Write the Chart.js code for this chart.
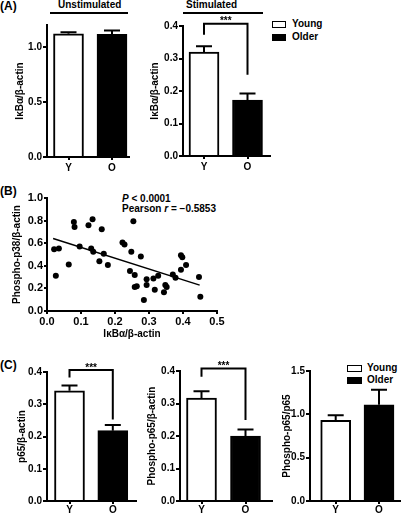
<!DOCTYPE html>
<html><head><meta charset="utf-8">
<script src="https://cdn.jsdelivr.net/npm/chart.js@4.4.1/dist/chart.umd.min.js"></script>
<style>
html,body{margin:0;padding:0;background:#fff;width:402px;height:516px;overflow:hidden;}
body{position:relative;font-family:'Liberation Sans',Arial,sans-serif;font-weight:bold;color:#000;}
canvas{position:absolute;}
.t{position:absolute;white-space:nowrap;font-size:10px;line-height:12px;}
.pl{position:absolute;white-space:nowrap;font-size:12px;line-height:14px;}
.ul{position:absolute;height:2px;background:#000;}
.box{position:absolute;box-sizing:border-box;border:1.5px solid #000;}
</style></head><body>
<div class="pl" style="left:0;top:-1px">(A)</div>
<div class="pl" style="left:0;top:184px">(B)</div>
<div class="pl" style="left:0;top:358px">(C)</div>
<div class="t" style="left:58px;top:-1px">Unstimulated</div>
<div class="ul" style="left:50px;top:12px;width:78px"></div>
<div class="t" style="left:186px;top:-1px">Stimulated</div>
<div class="ul" style="left:183px;top:12px;width:80px"></div>
<div class="box" style="left:272px;top:21px;width:14px;height:7px;background:#fff"></div>
<div class="box" style="left:272px;top:34px;width:14px;height:7px;background:#000"></div>
<div class="t" style="left:292px;top:18px">Young</div>
<div class="t" style="left:292px;top:31px">Older</div>
<div class="box" style="left:347px;top:365px;width:15px;height:7px;background:#fff"></div>
<div class="box" style="left:347px;top:377px;width:15px;height:7px;background:#000"></div>
<div class="t" style="left:367px;top:362px">Young</div>
<div class="t" style="left:367px;top:374px">Older</div>
<div class="t" style="left:122px;top:193px"><i>P</i> &lt; 0.0001</div>
<div class="t" style="left:122px;top:203px">Pearson <i>r</i> = −0.5853</div>
<script>
// ---------- data ----------
const barCats = ['Y', 'O'];
const seriesNames = ['Young', 'Older'];
const unstimMean = [1.12, 1.115];
const unstimSem  = [0.015, 0.035];
const stimMean   = [0.32, 0.172];
const stimSem    = [0.018, 0.02];
const p65Mean    = [0.342, 0.218];
const p65Sem     = [0.016, 0.018];
const pp65Mean   = [0.317, 0.2];
const pp65Sem    = [0.021, 0.02];
const ratioMean  = [0.93, 1.11];
const ratioSem   = [0.06, 0.175];
const ikbX = [0.021,0.035,0.026,0.064,0.079,0.081,0.096,0.122,0.134,0.130,0.136,0.161,0.154,0.167,0.179,0.222,0.228,0.254,0.248,0.244,0.258,0.276,0.258,0.264,0.285,0.293,0.293,0.313,0.317,0.327,0.344,0.348,0.352,0.370,0.378,0.394,0.394,0.398,0.409,0.447,0.451];
const p38Y = [0.547,0.553,0.312,0.412,0.788,0.744,0.571,0.759,0.812,0.553,0.524,0.724,0.441,0.506,0.406,0.606,0.588,0.794,0.524,0.353,0.318,0.482,0.212,0.218,0.097,0.282,0.229,0.288,0.188,0.312,0.165,0.229,0.212,0.324,0.294,0.365,0.494,0.476,0.406,0.300,0.126];
const fitX = [0.018, 0.449];
const fitY = [0.641, 0.229];
const ticksUnstim = [0, 0.5, 1.0];
const ticks04 = [0, 0.1, 0.2, 0.3, 0.4];
const ticksRatio = [0, 0.5, 1.0, 1.5];
const ticksBX = [0, 0.1, 0.2, 0.3, 0.4, 0.5];
const ticksBY = [0, 0.2, 0.4, 0.6, 0.8, 1.0];

// ---------- layout (pixels) ----------
const LAY = {
  a1: {L:47, R:129, T:25, B:157, c0:68.5, dx:43.5, ymax:1.2, titleX:20, padTop:12, hx:20, xpad:3},
  a2: {L:183, R:270, T:26, B:156, c0:204, dx:43.5, ymax:0.4, titleX:155, padTop:20, hx:20, xpad:3},
  c1: {L:47, R:136, T:372, B:501, c0:69.5, dx:43.3, ymax:0.4, titleX:22, padTop:16, hx:15, xpad:1},
  c2: {L:180, R:272, T:371, B:501, c0:201.5, dx:44, ymax:0.4, titleX:152, padTop:16, hx:15, xpad:1},
  c3: {L:310, R:400, T:371, B:501, c0:335.7, dx:43.3, ymax:1.5, titleX:287, padTop:12, hx:15, xpad:1},
  b:  {L:47, R:217, T:198, B:311, titleX:17, padTop:10, hx:29}
};
const BRACKETS = {
  a2: {top:0.407, left:0.373, right:0.25, text:'***'},
  c1: {top:0.406, left:0.383, right:0.253, text:'***'},
  c2: {top:0.408, left:0.382, right:0.249, text:'***'}
};

Chart.defaults.font.family = "'Liberation Sans', Arial, sans-serif";
Chart.defaults.font.weight = 'bold';
Chart.defaults.font.size = 10;
Chart.defaults.color = '#000';

function makeCanvas(lay, padRight) {
  const left = Math.round(lay.L - (lay.L - lay.titleX + 6));
  const top = Math.round(lay.T - lay.padTop);
  const w = Math.round(lay.R + padRight - left);
  const h = Math.round(lay.B + lay.hx - top);
  const cv = document.createElement('canvas');
  cv.width = w; cv.height = h;
  cv.style.left = left + 'px'; cv.style.top = top + 'px';
  cv.style.width = w + 'px'; cv.style.height = h + 'px';
  document.body.appendChild(cv);
  return {cv, wy: lay.L - left, padTop: lay.T - top, hx: top + h - lay.B, padRight: left + w - lay.R};
}

function decor(sem, bracket) {
  return {
    id: 'decor',
    afterDatasetsDraw(chart) {
      const ctx = chart.ctx, xs = chart.scales.x, ys = chart.scales.y;
      const meta = chart.getDatasetMeta(0);
      const data = chart.data.datasets[0].data;
      ctx.save();
      ctx.strokeStyle = '#000'; ctx.lineWidth = 2; ctx.lineCap = 'butt';
      meta.data.forEach((el, i) => {
        const yt = ys.getPixelForValue(data[i].y + sem[i]);
        ctx.beginPath();
        ctx.moveTo(el.x, el.y); ctx.lineTo(el.x, yt);
        ctx.moveTo(el.x - 8, yt); ctx.lineTo(el.x + 8, yt);
        ctx.stroke();
      });
      if (bracket) {
        const x0 = xs.getPixelForValue(0), x1 = xs.getPixelForValue(1);
        const yt = ys.getPixelForValue(bracket.top);
        ctx.beginPath();
        ctx.moveTo(x0, ys.getPixelForValue(bracket.left));
        ctx.lineTo(x0, yt); ctx.lineTo(x1, yt);
        ctx.lineTo(x1, ys.getPixelForValue(bracket.right));
        ctx.stroke();
        ctx.fillStyle = '#000';
        ctx.font = "bold 10px 'Liberation Sans', Arial, sans-serif";
        ctx.textAlign = 'center'; ctx.textBaseline = 'alphabetic';
        ctx.fillText(bracket.text, (x0 + x1) / 2, yt + 0.5);
      }
      ctx.restore();
    }
  };
}

function yAxis(ticks, title, wy) {
  return {
    min: 0,
    afterBuildTicks: s => { s.ticks = ticks.map(v => ({value: v})); },
    ticks: {callback: v => Number(v).toFixed(1), padding: 1, color: '#000', font: {size: 10, weight: 'bold'}},
    grid: {drawOnChartArea: false, drawTicks: true, tickLength: 4, color: '#000', lineWidth: 2},
    border: {color: '#000', width: 2},
    title: {display: true, text: title, padding: 0, color: '#000', font: {size: 10, weight: 'bold'}},
    afterFit: s => { s.width = wy; }
  };
}

function barChart(key, mean, sem, yTicks, yTitle) {
  const lay = LAY[key];
  const g = makeCanvas(lay, 4);
  const cfg = {
    type: 'bar',
    data: {
      datasets: [{
        label: seriesNames.join('/'),
        data: barCats.map((c, i) => ({x: i, y: mean[i]})),
        backgroundColor: ['#ffffff', '#000000'],
        borderColor: '#000', borderWidth: 2, borderSkipped: 'start',
        barThickness: 30
      }]
    },
    options: {
      animation: false, responsive: false, maintainAspectRatio: false,
      layout: {padding: {top: g.padTop, right: g.padRight, left: 0, bottom: 0}},
      plugins: {legend: {display: false}, tooltip: {enabled: false}},
      scales: {
        x: {
          type: 'linear', offset: false,
          min: (lay.L - lay.c0) / lay.dx, max: (lay.R - lay.c0) / lay.dx,
          afterBuildTicks: s => { s.ticks = barCats.map((c, i) => ({value: i})); },
          ticks: {callback: v => barCats[v], padding: lay.xpad, autoSkip: false, maxRotation: 0,
                  color: '#000', font: {size: 10, weight: 'bold', lineHeight: 1}},
          grid: {offset: false, drawOnChartArea: false, tickLength: 3, color: '#000', lineWidth: 2},
          border: {color: '#000', width: 2},
          afterFit: s => { s.height = g.hx; }
        },
        y: Object.assign(yAxis(yTicks, yTitle, g.wy), {max: lay.ymax})
      }
    },
    plugins: [decor(sem, BRACKETS[key])]
  };
  new Chart(g.cv, cfg);
}

barChart('a1', unstimMean, unstimSem, ticksUnstim, 'IκBα/β-actin');
barChart('a2', stimMean, stimSem, ticks04, 'IκBα/β-actin');
barChart('c1', p65Mean, p65Sem, ticks04, 'p65/β-actin');
barChart('c2', pp65Mean, pp65Sem, ticks04, 'Phospho-p65/β-actin');
barChart('c3', ratioMean, ratioSem, ticksRatio, 'Phospho-p65/p65');

// ---------- panel B scatter ----------
(function () {
  const lay = LAY.b;
  const g = makeCanvas(lay, 12);
  const yA = yAxis(ticksBY, 'Phospho-p38/β-actin', g.wy);
  yA.max = 1.0;
  yA.ticks.font = {size: 11, weight: 'bold'};
  yA.grid.tickLength = 3;
  new Chart(g.cv, {
    type: 'scatter',
    data: {
      datasets: [
        {data: ikbX.map((x, i) => ({x: x, y: p38Y[i]})), pointRadius: 3, pointBackgroundColor: '#000',
         pointBorderWidth: 0, backgroundColor: '#000', borderColor: '#000'},
        {type: 'line', data: fitX.map((x, i) => ({x: x, y: fitY[i]})), borderColor: '#000', borderWidth: 1.5,
         pointRadius: 0, fill: false, showLine: true}
      ]
    },
    options: {
      animation: false, responsive: false, maintainAspectRatio: false,
      layout: {padding: {top: g.padTop, right: g.padRight, left: 0, bottom: 0}},
      plugins: {legend: {display: false}, tooltip: {enabled: false}},
      scales: {
        x: {
          type: 'linear', min: 0, max: 0.5,
          afterBuildTicks: s => { s.ticks = ticksBX.map(v => ({value: v})); },
          ticks: {callback: v => Number(v).toFixed(1), padding: 2, color: '#000', maxRotation: 0,
                  font: {size: 11, weight: 'bold', lineHeight: 1}},
          grid: {drawOnChartArea: false, tickLength: 3, color: '#000', lineWidth: 2},
          border: {color: '#000', width: 2},
          title: {display: true, text: 'IκBα/β-actin', padding: 0, color: '#000', font: {size: 10, weight: 'bold'}},
          afterFit: s => { s.height = g.hx; }
        },
        y: yA
      }
    }
  });
})();
</script>
</body></html>
